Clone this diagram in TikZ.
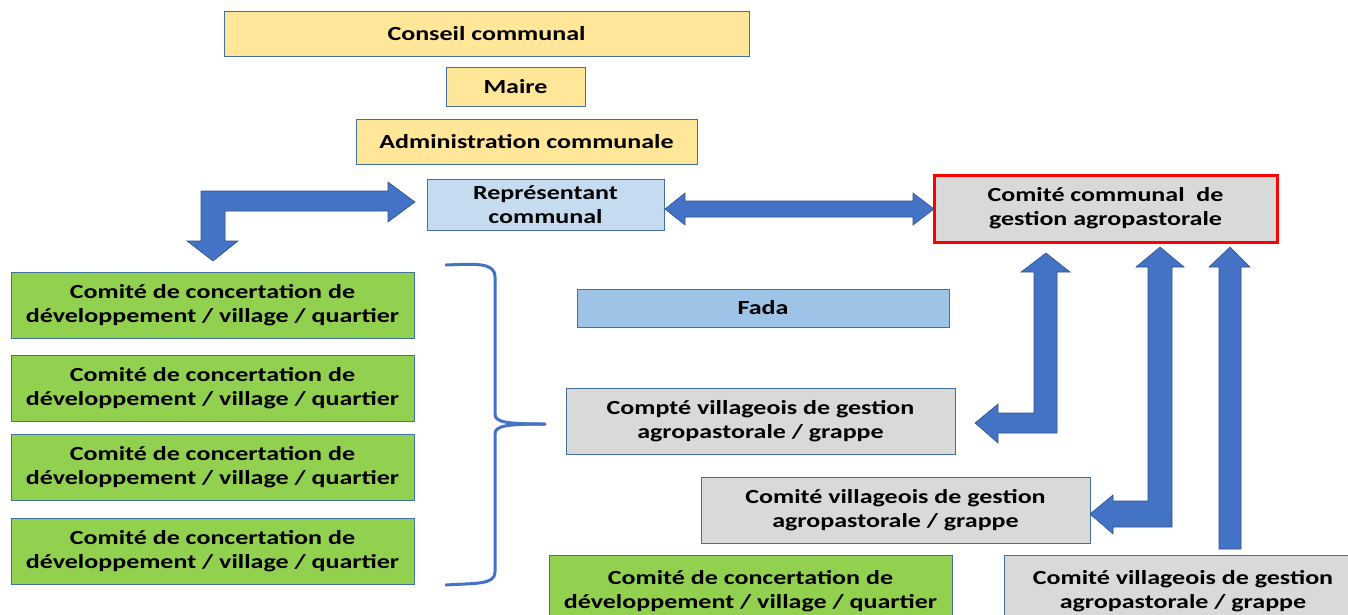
\documentclass[tikz,border=0pt]{standalone}
\usepackage{fontspec}
\setmainfont{Carlito}[FakeStretch=1.3]
\definecolor{yel}{HTML}{FFE699}
\definecolor{repblue}{HTML}{C5DCF0}
\definecolor{fadablue}{HTML}{9DC3E6}
\definecolor{grayf}{HTML}{D9D9D9}
\definecolor{greenf}{HTML}{92D050}
\definecolor{arrblue}{HTML}{4472C4}
\definecolor{arrborder}{HTML}{2F528F}
\definecolor{boxborder}{HTML}{41719C}
\tikzset{
  box/.style={draw=boxborder, line width=1pt, inner sep=0pt, align=center,
    font=\fontsize{20}{24}\selectfont\bfseries, text=black},
  yellowbox/.style={box, fill=yel},
  greenbox/.style={box, fill=greenf, minimum width=403pt, minimum height=66pt},
  graybox/.style={box, fill=grayf, minimum width=389pt, minimum height=66pt},
  blockarrow/.style={fill=arrblue, draw=arrborder, line width=0.6pt, line join=miter},
  bracestyle/.style={draw=arrblue, line width=3pt, line cap=round}
}
\begin{document}
\begin{tikzpicture}[x=1pt, y=-1pt]
\useasboundingbox (0,0) rectangle (1348,614);
\clip (0,0) rectangle (1348,614);

% top stack
\node[yellowbox, minimum width=525pt, minimum height=45pt] (cc) at (486.5,33.5) {Conseil communal};
\node[yellowbox, minimum width=139pt, minimum height=39pt] (maire) at (515.5,86.5) {Maire};
\node[yellowbox, minimum width=341pt, minimum height=45pt] (adm) at (526.5,141.5) {Administration communale};
\node[box, fill=repblue, minimum width=237pt, minimum height=51pt] (rep) at (545.5,204.5) {Représentant\\communal};
\node[box, fill=grayf, draw=red, line width=3pt, minimum width=343pt, minimum height=67pt] (ccg) at (1105.5,208.5) {Comité communal~ de\\gestion agropastorale};

% left green column
\node[greenbox] (g1) at (212.5,305) {Comité de concertation de\\développement / village / quartier};
\node[greenbox] (g2) at (212.5,388) {Comité de concertation de\\développement / village / quartier};
\node[greenbox] (g3) at (212.5,467) {Comité de concertation de\\développement / village / quartier};
\node[greenbox] (g4) at (212.5,551) {Comité de concertation de\\développement / village / quartier};

% middle
\node[box, fill=fadablue, minimum width=372pt, minimum height=38pt] (fada) at (763,308) {Fada};
\node[graybox] (cv1) at (760.5,421.5) {Compté villageois de gestion\\agropastorale / grappe};
\node[graybox] (cv2) at (895.5,510) {Comité villageois de gestion\\agropastorale / grappe};
\node[greenbox, minimum height=72pt] (g5) at (750.5,591) {Comité de concertation de\\développement / village / quartier};
\node[graybox, minimum width=358pt, minimum height=72pt] (cv3) at (1183,591) {Comité villageois de gestion\\agropastorale / grappe};

% block arrows
\draw[blockarrow] (415,202) -- (388,182) -- (388,191) -- (201,191) -- (201,241) -- (187,241)
  -- (213,261) -- (238,241) -- (225,241) -- (225,211) -- (388,211) -- (388,222) -- cycle;
\draw[blockarrow] (665,209) -- (685,193) -- (685,201) -- (913,201) -- (913,193) -- (934,209)
  -- (913,225) -- (913,217) -- (685,217) -- (685,225) -- cycle;
\draw[blockarrow] (1046,253) -- (1070,272) -- (1057,272) -- (1057,433) -- (998,433) -- (998,443)
  -- (975,423) -- (998,404) -- (998,413) -- (1034,413) -- (1034,272) -- (1021,272) -- cycle;
\draw[blockarrow] (1160,247) -- (1184,267) -- (1172,267) -- (1172,527) -- (1113,527) -- (1113,534)
  -- (1090,514) -- (1113,495) -- (1113,501) -- (1148,501) -- (1148,267) -- (1136,267) -- cycle;
\draw[blockarrow] (1230,247) -- (1250,267) -- (1241,267) -- (1241,549) -- (1219,549)
  -- (1219,267) -- (1209,267) -- cycle;

% brace
\coordinate (bt) at (446,265);
\coordinate (bm) at (545,424);
\coordinate (bb) at (446,585);
\draw[bracestyle] (bt) .. controls (475,264) and (495,262) .. (495,277) -- (495,414)
  .. controls (495,422) and (505,424) .. (bm);
\draw[bracestyle] (bm) .. controls (505,424) and (495,426) .. (495,434) -- (495,572)
  .. controls (495,585) and (475,583) .. (bb);
\end{tikzpicture}
\end{document}
